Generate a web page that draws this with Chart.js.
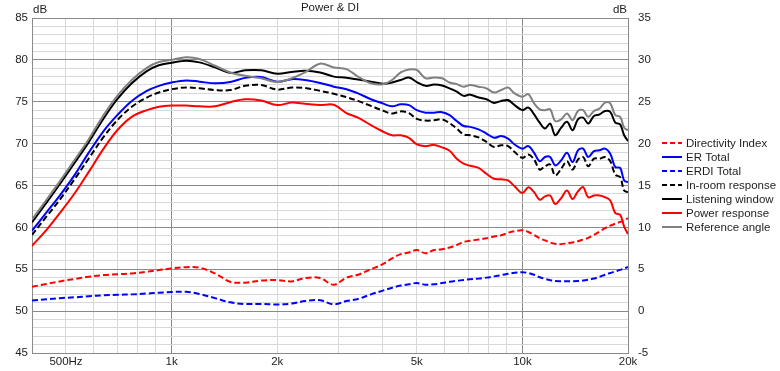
<!DOCTYPE html>
<html>
<head>
<meta charset="utf-8">
<title>Power & DI</title>
<script src="https://cdn.jsdelivr.net/npm/chart.js@4.4.0/dist/chart.umd.min.js"></script>
<style>
  html, body { margin: 0; padding: 0; background: #ffffff; }
  #wrap { position: relative; width: 780px; height: 371px; }
</style>
</head>
<body>
<div id="wrap"><canvas id="chart"></canvas></div>
<script>
// frequencies (Hz) shared by all curves
var freqHz = [400, 440, 480, 530, 580, 640, 700, 770, 850, 920,
  1000, 1100, 1200, 1330, 1470, 1620, 1800, 2000, 2200, 2400,
  2650, 2900, 3150, 3400, 3700, 4000, 4250, 4500, 4750, 5000,
  5300, 5600, 5900, 6200, 6500, 6800, 7100, 7500, 7900, 8300,
  8700, 9100, 9500, 10000, 10400, 10800, 11200, 11600, 12000, 12400,
  12900, 13400, 13900, 14400, 14900, 15400, 16000, 16600, 17200, 17800,
  18400, 19000, 19500, 20000];

// right axis (dB) - directivity curves
var directivityIndex = [2.9, 3.25, 3.55, 3.85, 4.1, 4.3, 4.4, 4.5, 4.7, 4.9,
  5.1, 5.25, 5.2, 4.5, 3.5, 3.4, 3.65, 3.7, 3.55, 3.95,
  3.95, 3.15, 4.0, 4.35, 5.0, 5.6, 6.3, 6.8, 7.0, 7.3,
  6.9, 7.3, 7.4, 7.6, 7.9, 8.25, 8.4, 8.55, 8.7, 8.9,
  9.05, 9.35, 9.55, 9.65, 9.45, 9.1, 8.7, 8.45, 8.2, 8.05,
  8.0, 8.1, 8.2, 8.35, 8.55, 8.75, 9.1, 9.5, 9.9, 10.2,
  10.45, 10.65, 10.85, 11.1];

var erdiTotal = [1.28, 1.42, 1.55, 1.65, 1.78, 1.88, 1.95, 2.0, 2.1, 2.2,
  2.28, 2.3, 2.05, 1.55, 1.05, 0.85, 0.85, 0.8, 0.9, 1.2,
  1.3, 0.8, 1.2, 1.45, 2.0, 2.45, 2.8, 3.05, 3.2, 3.35,
  3.15, 3.2, 3.35, 3.5, 3.62, 3.72, 3.8, 3.88, 4.0, 4.15,
  4.3, 4.45, 4.58, 4.65, 4.55, 4.35, 4.05, 3.85, 3.7, 3.6,
  3.58, 3.58, 3.58, 3.6, 3.65, 3.75, 3.9, 4.1, 4.35, 4.55,
  4.75, 4.92, 5.1, 5.27];

// left axis (dB) - responses
var erTotal = [59.6, 61.8, 63.8, 66.3, 68.9, 71.5, 73.4, 75.1, 76.3, 76.9,
  77.3, 77.55, 77.4, 77.2, 77.35, 77.85, 77.95, 77.4, 77.7, 77.6,
  77.25, 76.8, 76.5, 76.0, 75.3, 74.8, 74.45, 74.7, 74.6, 74.0,
  73.7, 73.7, 73.75, 73.4, 72.7, 72.1, 72.0, 71.7, 71.2, 70.7,
  70.9, 70.6, 69.9, 69.4, 69.7, 68.9, 67.9, 68.4, 68.4, 67.4,
  68.0, 68.9, 67.8, 69.2, 69.4, 68.4, 69.1, 69.2, 69.4, 68.8,
  67.2, 67.1, 65.6, 65.4];

var inRoom = [59.1, 61.3, 63.3, 65.8, 68.2, 70.8, 72.8, 74.4, 75.5, 76.1,
  76.5, 76.7, 76.6, 76.4, 76.4, 76.9, 77.0, 76.45, 76.7, 76.65,
  76.3, 75.95, 75.55, 75.1, 74.5, 73.95, 73.6, 73.85, 73.65, 72.95,
  72.75, 72.8, 72.9, 72.45, 71.8, 71.1, 71.0, 70.75, 70.2, 69.6,
  69.8, 69.7, 69.0, 68.3, 68.7, 68.1, 66.9, 67.3, 67.5, 66.2,
  67.0, 67.9, 66.9, 68.1, 68.4, 67.3, 68.2, 68.2, 68.4, 67.9,
  66.3, 66.0, 64.4, 64.2];

var listeningWindow = [60.6, 62.95, 65.15, 67.75, 70.15, 73.0, 75.3, 77.2, 78.65, 79.35,
  79.65, 79.9, 79.7, 79.1, 78.45, 78.75, 78.75, 78.35, 78.55, 78.7,
  78.5, 78.0, 77.87, 77.65, 77.4, 77.15, 77.3, 77.6, 77.9, 77.35,
  76.9, 77.05, 76.95, 76.6, 76.2, 75.7, 75.85, 75.5, 75.3, 74.85,
  75.1, 75.2, 74.6, 74.0, 74.3, 73.5, 72.5, 71.8, 72.4, 71.0,
  71.9, 72.6, 71.6, 72.9, 73.1, 72.4, 73.3, 73.5, 73.9, 73.8,
  72.5, 72.3, 71.0, 70.3];

var powerResponse = [57.8, 59.7, 61.7, 64.1, 66.6, 69.4, 71.6, 73.2, 74.0, 74.4,
  74.55, 74.55, 74.45, 74.45, 74.95, 75.3, 75.15, 74.6, 74.9, 74.75,
  74.6, 74.65, 73.65, 73.1, 72.2, 71.45, 71.0, 71.0, 70.7, 69.9,
  69.7, 69.85, 69.55, 69.15, 68.2, 67.6, 67.35, 67.1, 66.4, 65.8,
  65.75, 65.6, 64.9, 64.1, 64.8, 64.2, 63.3, 63.7, 63.8, 62.8,
  63.5, 64.4, 63.4, 64.3, 64.8, 63.6, 63.8, 63.8, 63.6, 63.2,
  61.7, 61.5, 60.1, 59.2];

var referenceAngle = [60.95, 63.3, 65.5, 68.1, 70.5, 73.4, 75.7, 77.6, 79.05, 79.75,
  80.0, 80.3, 80.1, 79.3, 78.5, 78.1, 77.8, 77.35, 77.8, 78.5,
  79.55, 79.1, 78.9, 78.0, 77.2, 77.1, 77.6, 78.5, 78.85, 78.8,
  77.8, 77.9, 77.8, 77.3, 77.1, 76.8, 77.0, 76.8, 76.6, 76.1,
  76.4, 76.7, 76.0, 75.6, 75.9, 74.8, 74.1, 74.0, 74.1, 72.7,
  72.9, 73.6, 72.8, 73.9, 74.0, 73.2, 73.9, 74.2, 74.9, 74.8,
  73.4, 73.2, 71.9, 71.6];

// axes
var xGridHz = [400, 500, 600, 700, 800, 900, 1000, 2000, 3000, 4000, 5000,
  6000, 7000, 8000, 9000, 10000, 20000];
var xTickValues = [500, 1000, 2000, 5000, 10000, 20000];
var xTickLabels = ["500Hz", "1k", "2k", "5k", "10k", "20k"];
var chartTitle = "Power & DI";

var FONT = '"Liberation Sans", Arial, sans-serif';
var FSIZE = 11.5;
var TEXT = "#1e1e1e";
var GRID_MAJOR = "#8a8a8a";
var GRID_MINOR = "#d8d8d8";

function pts(arr) {
  return freqHz.map(function (f, i) { return { x: f, y: arr[i] }; });
}

var series = [
  { label: "Directivity Index", data: directivityIndex, color: "#ff0000", dash: [6, 3], axis: "y2" },
  { label: "ER Total", data: erTotal, color: "#0000ff", dash: [], axis: "y" },
  { label: "ERDI Total", data: erdiTotal, color: "#0000ff", dash: [6, 3], axis: "y2" },
  { label: "In-room response", data: inRoom, color: "#000000", dash: [6, 3], axis: "y" },
  { label: "Listening window", data: listeningWindow, color: "#000000", dash: [], axis: "y" },
  { label: "Power response", data: powerResponse, color: "#ff0000", dash: [], axis: "y" },
  { label: "Reference angle", data: referenceAngle, color: "#808080", dash: [], axis: "y" }
];

var datasets = series.map(function (s, i) {
  return {
    label: s.label,
    data: pts(s.data),
    yAxisID: s.axis,
    borderColor: s.color,
    backgroundColor: s.color,
    borderDash: s.dash,
    borderWidth: 2,
    pointRadius: 0,
    tension: 0.35,
    fill: false,
    order: -i
  };
});

// title, dB captions and the legend
var annotate = {
  id: "annotate",
  afterDraw: function (chart) {
    var c = chart.ctx;
    var a = chart.chartArea;
    c.save();
    c.font = FSIZE + "px " + FONT;
    c.fillStyle = TEXT;
    c.textBaseline = "middle";
    c.textAlign = "center";
    c.fillText(chartTitle, (a.left + a.right) / 2, 8);
    c.textAlign = "left";
    c.fillText("dB", a.left + 1, 10);
    c.textAlign = "right";
    c.fillText("dB", a.right - 1, 10);

    series.forEach(function (s, i) {
      var y = 143 + i * 14;
      c.beginPath();
      c.strokeStyle = s.color;
      c.lineWidth = 2;
      c.setLineDash(s.dash.length ? [5, 3] : []);
      c.moveTo(662, y);
      c.lineTo(682, y);
      c.stroke();
      c.setLineDash([]);
      c.textAlign = "left";
      c.fillStyle = TEXT;
      c.fillText(s.label, 686, y + 0.5);
    });
    c.restore();
  }
};

new Chart(document.getElementById("chart").getContext("2d"), {
  type: "line",
  data: { datasets: datasets },
  plugins: [annotate],
  options: {
    responsive: true,
    maintainAspectRatio: false,
    devicePixelRatio: 1,
    animation: false,
    layout: { padding: { top: 18, left: 0, right: 0, bottom: 0 } },
    plugins: {
      legend: { display: false },
      title: { display: false },
      tooltip: { enabled: false }
    },
    scales: {
      x: {
        type: "logarithmic",
        min: 400,
        max: 20000,
        afterBuildTicks: function (s) {
          s.ticks = xGridHz.map(function (v) { return { value: v }; });
        },
        afterFit: function (s) { s.height = 18; },
        ticks: {
          autoSkip: false,
          maxRotation: 0,
          padding: 2,
          color: TEXT,
          font: { family: FONT, size: FSIZE },
          callback: function (v) {
            var k = xTickValues.indexOf(v);
            return k >= 0 ? xTickLabels[k] : "";
          }
        },
        grid: {
          drawTicks: false,
          color: function (ctx) {
            var v = ctx.tick ? ctx.tick.value : 0;
            return (v === 1000 || v === 10000 || v === 400 || v === 20000) ? GRID_MAJOR : GRID_MINOR;
          }
        },
        border: { display: true, color: GRID_MAJOR }
      },
      y: {
        position: "left",
        min: 45,
        max: 85,
        afterFit: function (s) { s.width = 32; },
        ticks: {
          stepSize: 1,
          autoSkip: false,
          padding: 4,
          color: TEXT,
          font: { family: FONT, size: FSIZE },
          callback: function (v) { return v % 5 === 0 ? v : ""; }
        },
        grid: {
          drawTicks: false,
          color: function (ctx) {
            var v = ctx.tick ? ctx.tick.value : 0;
            return v % 5 === 0 ? GRID_MAJOR : GRID_MINOR;
          }
        },
        border: { display: true, color: GRID_MAJOR }
      },
      y2: {
        position: "right",
        min: -5,
        max: 35,
        afterFit: function (s) { s.width = 152; },
        ticks: {
          stepSize: 5,
          autoSkip: false,
          padding: 10,
          color: TEXT,
          font: { family: FONT, size: FSIZE }
        },
        grid: { drawOnChartArea: false, drawTicks: false },
        border: { display: true, color: GRID_MAJOR }
      }
    }
  }
});
</script>
</body>
</html>
